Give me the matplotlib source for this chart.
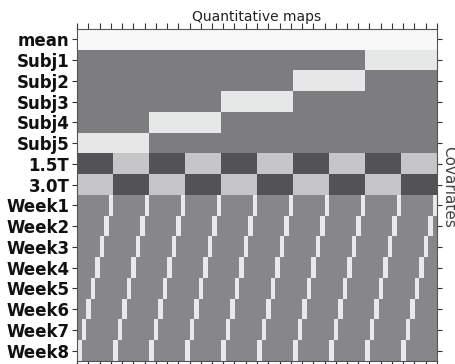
import numpy as np
import matplotlib
matplotlib.use("Agg")
import matplotlib.pyplot as plt
from matplotlib.colors import ListedColormap, BoundaryNorm

# ---- data ----
subjects = ["Subj1", "Subj2", "Subj3", "Subj4", "Subj5"]
scanners = ["1.5T", "3.0T"]
weeks = ["Week1", "Week2", "Week3", "Week4", "Week5", "Week6", "Week7", "Week8"]
row_labels = ["mean"] + subjects + scanners + weeks
title = "Quantitative maps"
side_label = "Covariates"

# colours per row group: [mean, subj0, subj1, scan0, scan1, week0, week1]
group_colors = ["#f8f8f8", "#7d7c81", "#e6e7e7", "#525257", "#c6c6c8", "#87878b", "#e9e9e9"]

# ---- build design matrix (columns: subject -> scanner -> week) ----
cols = [(s, sc, w) for s in range(len(subjects)) for sc in range(len(scanners)) for w in range(len(weeks))]
ncol = len(cols)
nrow = len(row_labels)
codes = np.zeros((nrow, ncol), dtype=int)
for j, (s, sc, w) in enumerate(cols):
    codes[0, j] = 0
    for k in range(len(subjects)):
        codes[1 + k, j] = 1 + int(k == s)
    for k in range(len(scanners)):
        codes[1 + len(subjects) + k, j] = 3 + int(k == sc)
    for k in range(len(weeks)):
        codes[1 + len(subjects) + len(scanners) + k, j] = 5 + int(k == w)

cmap = ListedColormap(group_colors)
norm = BoundaryNorm(np.arange(-0.5, len(group_colors) + 0.5, 1), cmap.N)

fig = plt.figure(figsize=(4.55, 3.64), dpi=100)
ax = fig.add_axes([77 / 455, 3 / 364, 360 / 455, 332 / 364])
ax.imshow(codes, cmap=cmap, norm=norm, aspect="auto", interpolation="nearest")
ax.invert_xaxis()

ax.set_yticks(np.arange(nrow))
ax.set_yticklabels(row_labels, fontsize=12, fontweight="bold", color="#111111")
ax.set_xticks(np.arange(-0.5, ncol, 2.5))
ax.set_xticklabels([])
ax.tick_params(axis="x", top=True, bottom=True, direction="out", length=4, width=0.8, color="#333333")
ax.tick_params(axis="y", left=True, right=True, direction="out", length=3.5, width=0.8, color="#333333", pad=2)
for sp in ax.spines.values():
    sp.set_color("#555555")
    sp.set_linewidth(0.8)

ax.set_title(title, fontsize=10, color="#222222", pad=6)
fig.text(449 / 455, 1 - 187 / 364, side_label, rotation=270, ha="center", va="center",
         fontsize=11, color="#444444")

fig.savefig("out.png", dpi=100)
